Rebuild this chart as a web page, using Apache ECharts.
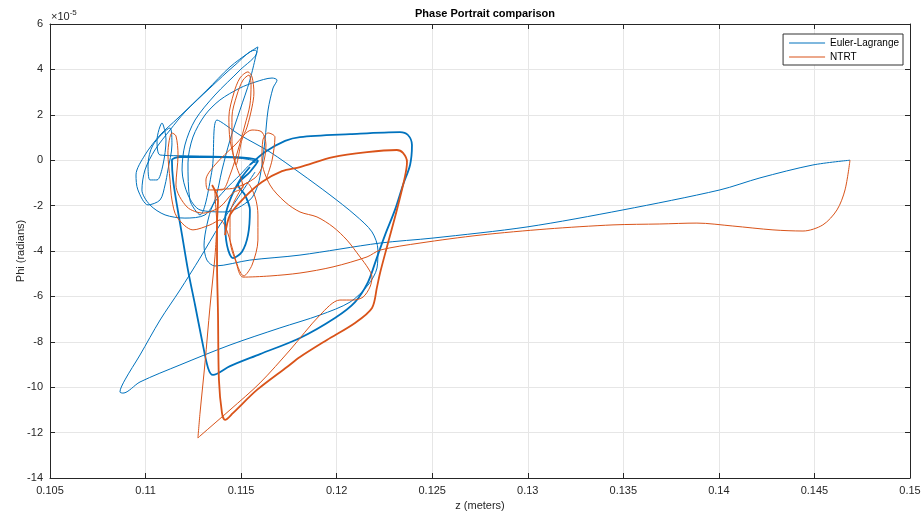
<!DOCTYPE html>
<html>
<head>
<meta charset="utf-8" />
<script src="https://cdn.jsdelivr.net/npm/echarts@6/dist/echarts.min.js"></script>
<style>
  html, body { margin: 0; padding: 0; background: #fff; }
  #main { width: 922px; height: 515px; }
</style>
</head>
<body>
<div id="main"></div>
<script>
// z in metres, phi in units of 1e-5 rad
var elPath = [
  [0.14686, 0], [0.14492, -0.21], [0.14215, -0.78], [0.14005, -1.31], [0.13498, -2.19], [0.12996, -2.94],
  [0.12504, -3.43], [0.12227, -3.65], [0.11808, -4.18], [0.11546, -4.40], [0.11363, -4.66], [0.11321, -4.40],
  [0.11306, -3.74], [0.11321, -2.85], [0.11353, -1.97], [0.11416, -1.31], [0.11494, -0.65], [0.11557, -0.12],
  [0.11588, -0.08], [0.11442, 0.14], [0.11232, 0.19], [0.11076, 0.23], [0.11060, 0.89], [0.11086, 1.64],
  [0.11107, 0.89], [0.11091, -0.21], [0.11060, -0.87], [0.11023, -0.87], [0.11013, -0.21], [0.11039, 0.67],
  [0.11128, 1.42], [0.11138, 0.67], [0.11117, -0.43], [0.11102, -1.09], [0.11076, -1.75], [0.11013, -1.97],
  [0.10960, -1.31], [0.10950, -0.65], [0.10997, 0.23], [0.11076, 1.11], [0.11170, 1.86], [0.11321, 3.09],
  [0.11442, 4.11], [0.11546, 4.77], [0.11588, 4.99], [0.11546, 3.53], [0.11494, 2.21], [0.11442, 0.89],
  [0.11400, -0.43], [0.11363, -1.75], [0.11311, -2.41], [0.11206, -2.55], [0.11102, -2.41], [0.11023, -1.97],
  [0.10981, -1.31], [0.10997, -0.43], [0.11049, 0.45], [0.11128, 1.33], [0.11206, 2.12], [0.11337, 3.18],
  [0.11468, 4.19], [0.11573, 4.85], [0.11583, 4.77], [0.11494, 3.97], [0.11363, 2.87], [0.11259, 1.77],
  [0.11206, 0.67], [0.11191, -0.43], [0.11222, -1.53], [0.11285, -2.19], [0.11416, -2.28], [0.11546, -1.75],
  [0.11588, -1.09], [0.11609, -0.21], [0.11625, 0.89], [0.11641, 2.21], [0.11667, 3.18], [0.11688, 3.53],
  [0.11662, 3.62], [0.11573, 3.44], [0.11494, 3.18], [0.11389, 2.65], [0.11311, 1.99], [0.11248, 1.02],
  [0.11222, -0.12], [0.11232, -1.75], [0.11285, -2.41], [0.11348, -0.43], [0.11374, 1.77], [0.11494, 1.11],
  [0.11651, 0.36], [0.11808, -0.56], [0.11965, -1.53], [0.12096, -2.41], [0.12185, -3.16], [0.12216, -3.96],
  [0.12211, -4.75], [0.12164, -5.50], [0.12070, -6.25], [0.11913, -6.82], [0.11703, -7.39], [0.11442, -8.14],
  [0.11180, -9.02], [0.10971, -9.77], [0.10882, -10.26], [0.10866, -10.21], [0.10892, -9.68], [0.10971, -8.58],
  [0.11076, -7.04], [0.11180, -5.72], [0.11285, -4.31], [0.11389, -2.85], [0.11494, -1.53], [0.11573, -0.52]
];

var elLoop = [
  [0.11546, -0.21], [0.11625, 0.36], [0.11730, 0.85], [0.11808, 1.02], [0.12070, 1.15], [0.12331, 1.24],
  [0.12373, 1.11], [0.12394, 0.67], [0.12384, -0.21], [0.12347, -1.09], [0.12305, -2.19], [0.12253, -3.30],
  [0.12206, -4.40], [0.12164, -5.37], [0.12096, -6.25], [0.11991, -6.95], [0.11808, -7.83], [0.11599, -8.54],
  [0.11442, -9.07], [0.11353, -9.46], [0.11327, -9.15], [0.11295, -7.92], [0.11259, -6.38], [0.11222, -4.84],
  [0.11191, -3.30], [0.11164, -1.97], [0.11144, -0.87], [0.11138, 0], [0.11180, 0.14], [0.11389, 0.14],
  [0.11588, -0.04], [0.11546, -0.52], [0.11484, -1.09], [0.11520, -1.53], [0.11546, -2.19], [0.11536, -3.30],
  [0.11504, -4.04], [0.11457, -4.31], [0.11426, -3.74], [0.11416, -2.63], [0.11442, -1.75], [0.11494, -0.87],
  [0.11546, -0.30]
];

var ntPath = [
  [0.14686, 0], [0.14660, -1.31], [0.14618, -2.19], [0.14544, -2.85], [0.14440, -3.12], [0.14283, -3.07],
  [0.14073, -2.90], [0.13885, -2.77], [0.13691, -2.81], [0.13446, -2.85], [0.13100, -3.03], [0.12750, -3.30],
  [0.12436, -3.65], [0.12227, -3.96], [0.12159, -4.26], [0.11981, -4.70], [0.11808, -4.97], [0.11651, -5.10],
  [0.11510, -5.15], [0.11473, -4.48], [0.11442, -3.52], [0.11442, -2.41], [0.11468, -1.75], [0.11531, -1.00],
  [0.11573, -1.62], [0.11588, -2.41], [0.11588, -3.52], [0.11557, -4.62], [0.11515, -5.10],
  [0.11389, -2.63], [0.11337, -2.85], [0.11248, -3.07], [0.11164, -2.50], [0.11138, -1.75], [0.11128, -0.87],
  [0.11117, 0.32], [0.11138, 1.20], [0.11159, 1.07], [0.11170, 0.23], [0.11159, -1.09], [0.11217, -2.06],
  [0.11301, -2.33], [0.11389, -2.06], [0.11457, -1.44], [0.11510, -1.18],
  [0.11473, -0.21], [0.11442, 0.89], [0.11436, 1.90], [0.11462, 2.96], [0.11494, 3.62], [0.11536, 3.89],
  [0.11557, 3.67], [0.11567, 2.96], [0.11557, 2.34], [0.11531, 1.46], [0.11504, 0.89], [0.11473, -0.21],
  [0.11452, 0.89], [0.11452, 1.90], [0.11478, 2.87], [0.11510, 3.53], [0.11541, 3.75], [0.11552, 3.31],
  [0.11546, 2.43], [0.11520, 1.55], [0.11484, 0.45], [0.11442, -0.65], [0.11400, -1.31],
  [0.11327, -1.31], [0.11316, -0.87], [0.11363, -0.21], [0.11468, 0.67], [0.11557, 1.33], [0.11609, 1.24],
  [0.11630, 0.67], [0.11614, -0.21], [0.11573, -0.78], [0.11468, -1.22], [0.11363, -1.40], [0.11374, -2.77]
];

var ntLoop = [
  [0.11416, -3.30], [0.11442, -2.41], [0.11520, -1.62], [0.11609, -0.96], [0.11714, -0.48], [0.11808, -0.30],
  [0.11981, 0.14], [0.12159, 0.36], [0.12315, 0.45], [0.12347, 0.32], [0.12368, -0.08], [0.12357, -0.74],
  [0.12315, -2.19], [0.12263, -3.82], [0.12227, -4.97], [0.12211, -5.59], [0.12185, -6.51], [0.12096, -7.17],
  [0.11949, -7.92], [0.11808, -8.67], [0.11740, -9.11], [0.11583, -10.12], [0.11457, -11.14], [0.11416, -11.44],
  [0.11400, -11.14], [0.11384, -9.68], [0.11379, -6.73], [0.11374, -4.53], [0.11374, -2.77], [0.11379, -1.75],
  [0.11348, -1.09]
];

var ntLow = [
  [0.11374, -2.77], [0.11363, -4.26], [0.11337, -6.47], [0.11311, -8.93], [0.11285, -11.14], [0.11274, -12.24],
  [0.11285, -12.15], [0.11442, -11.00], [0.11599, -9.81], [0.11756, -8.36], [0.11913, -6.82], [0.12017, -6.16],
  [0.12086, -6.16], [0.12138, -6.03], [0.12174, -5.59], [0.12185, -5.15], [0.12164, -4.75], [0.12122, -4.26],
  [0.12054, -3.52], [0.11981, -2.94], [0.11897, -2.50], [0.11808, -2.28], [0.11730, -1.84], [0.11651, -1.09],
  [0.11609, 0], [0.11614, 0.89], [0.11641, 1.20], [0.11677, 1.02], [0.11662, 0], [0.11630, -0.87]
];

var seriesNames = ['Euler-Lagrange', 'NTRT'];
var seriesColors = ['#0072BD', '#D95319'];

var chart = echarts.init(document.getElementById('main'));

function lineSeries(name, color, data, width) {
  return {
    name: name, type: 'line', data: data, showSymbol: false, smooth: 0.3,
    lineStyle: { color: color, width: width }, itemStyle: { color: color },
    animation: false
  };
}

var axisText = { color: '#262626', fontSize: 11, fontFamily: 'Liberation Sans, Arial' };
var gridLine = { show: true, lineStyle: { color: '#e6e6e6', width: 1 } };

chart.setOption({
  backgroundColor: '#fff',
  title: {
    text: 'Phase Portrait comparison', left: 480, top: 3, textAlign: 'center',
    textStyle: { fontSize: 11, fontWeight: 'bold', color: '#000', fontFamily: 'Liberation Sans, Arial' }
  },
  legend: {
    data: seriesNames, orient: 'vertical', right: 19, top: 34,
    itemWidth: 36, itemHeight: 1, itemGap: 4, icon: 'rect',
    backgroundColor: '#fff', borderColor: '#333', borderWidth: 1, padding: [4, 4, 3, 6],
    textStyle: { fontSize: 10, color: '#000', fontFamily: 'Liberation Sans, Arial' }
  },
  grid: { left: 50, right: 12, top: 24, bottom: 37, outerBoundsMode: 'none' },
  xAxis: [{
    type: 'value', min: 0.105, max: 0.15, interval: 0.005,
    name: 'z (meters)', nameLocation: 'middle', nameGap: 22,
    nameTextStyle: axisText,
    axisLine: { onZero: false, lineStyle: { color: '#262626' } },
    axisTick: { inside: true, length: 5, lineStyle: { color: '#262626' } },
    axisLabel: Object.assign({ margin: 7, formatter: function (v) { return String(+v.toFixed(3)); } }, axisText),
    splitLine: gridLine
  }, {
    type: 'value', position: 'top', min: 0.105, max: 0.15, interval: 0.005,
    axisLine: { show: true, onZero: false, lineStyle: { color: '#262626' } },
    axisTick: { inside: true, length: 5, lineStyle: { color: '#262626' } },
    axisLabel: { show: false }, splitLine: { show: false }
  }],
  yAxis: [{
    type: 'value', min: -14, max: 6, interval: 2,
    name: 'Phi (radians)', nameLocation: 'middle', nameGap: 24, nameMoveOverlap: false,
    nameTextStyle: axisText,
    axisLine: { show: true, onZero: false, lineStyle: { color: '#262626' } },
    axisTick: { show: true, inside: true, length: 5, lineStyle: { color: '#262626' } },
    axisLabel: Object.assign({ margin: 7 }, axisText),
    splitLine: gridLine
  }, {
    type: 'value', position: 'right', min: -14, max: 6, interval: 2,
    axisLine: { show: true, onZero: false, lineStyle: { color: '#262626' } },
    axisTick: { show: true, inside: true, length: 5, lineStyle: { color: '#262626' } },
    axisLabel: { show: false }, splitLine: { show: false }
  }],
  graphic: [{
    type: 'text', left: 51, top: 9,
    style: {
      text: '×10{s|-5}', fill: '#262626', fontSize: 11, fontFamily: 'Liberation Sans, Arial',
      rich: { s: { fontSize: 8, verticalAlign: 'top', padding: [0, 0, 7, 0], fill: '#262626' } }
    }
  }],
  series: [
    lineSeries(seriesNames[0], seriesColors[0], elPath, 1),
    lineSeries(seriesNames[0], seriesColors[0], elLoop, 1.8),
    lineSeries(seriesNames[1], seriesColors[1], ntPath, 1),
    lineSeries(seriesNames[1], seriesColors[1], ntLoop, 1.8),
    lineSeries(seriesNames[1], seriesColors[1], ntLow, 1)
  ]
});
</script>
</body>
</html>
